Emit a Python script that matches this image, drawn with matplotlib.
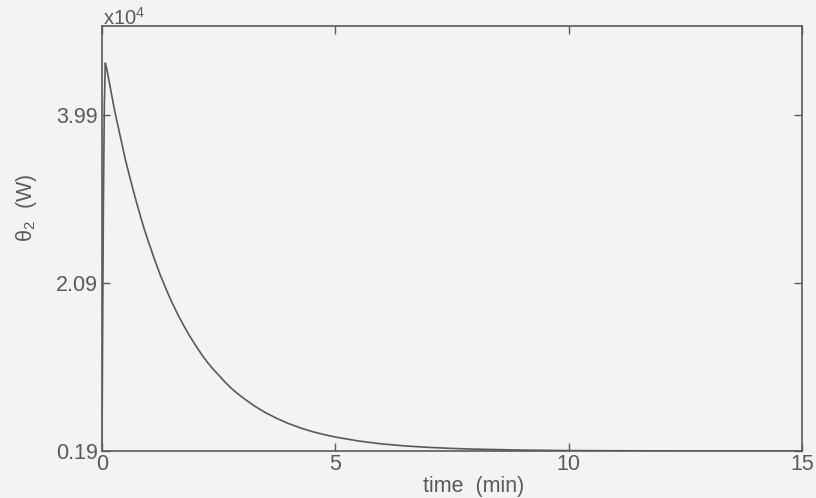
import matplotlib
matplotlib.use("Agg")
import matplotlib.pyplot as plt

# time (min) and theta_2 (x10^4 W)
time_min = [0.0, 0.01, 0.03, 0.05, 0.07, 0.10, 0.15, 0.20, 0.25, 0.30, 0.35,
            0.40, 0.50, 0.60, 0.70, 0.80, 0.90, 1.00, 1.125, 1.25, 1.375,
            1.50, 1.625, 1.75, 1.875, 2.00, 2.125, 2.25, 2.375, 2.50, 2.625,
            2.75, 2.875, 3.00, 3.25, 3.50, 3.75, 4.00, 4.25, 4.50, 4.75,
            5.00, 5.50, 6.00, 6.50, 7.00, 7.50, 8.00, 9.00,
            10.0, 11.0, 12.0, 13.0, 14.0, 15.0]
theta2 = [0.19, 1.20, 3.00, 4.10, 4.58, 4.52, 4.38, 4.24, 4.10, 3.97, 3.85,
          3.73, 3.49, 3.28, 3.08, 2.89, 2.71, 2.55, 2.36, 2.18, 2.02,
          1.87, 1.735, 1.61, 1.495, 1.39, 1.29, 1.20, 1.12, 1.05, 0.976,
          0.91, 0.853, 0.80, 0.705, 0.625, 0.558, 0.50, 0.452, 0.41, 0.377,
          0.348, 0.303, 0.270, 0.247, 0.231, 0.219, 0.211, 0.2005,
          0.195, 0.193, 0.1915, 0.191, 0.1905, 0.190]

xticks = [0, 5, 10, 15]
yticks = [0.19, 2.09, 3.99]
ytick_labels = ["0.19", "2.09", "3.99"]

bg = "#f3f3f3"
ink = "#5a5a5a"
fs = 15.5

plt.rcParams['font.family'] = ['Liberation Sans', 'DejaVu Sans']
plt.rcParams['mathtext.fontset'] = 'custom'
plt.rcParams['mathtext.rm'] = 'Liberation Sans'

fig = plt.figure(figsize=(8.16, 4.98), dpi=100, facecolor=bg)
ax = fig.add_axes([102/816, 1 - 451/498, 700/816, 425/498], facecolor=bg)

ax.plot(time_min, theta2, color=ink, lw=1.2)

ax.set_xlim(0, 15)
ax.set_ylim(0.19, 5.0)
ax.set_xticks(xticks)
ax.set_xticklabels([str(v) for v in xticks])
ax.set_yticks(yticks)
ax.set_yticklabels(ytick_labels)

ax.tick_params(direction='in', length=6, width=1.0, colors=ink,
               labelsize=fs, top=True, right=True)
ax.tick_params(axis='x', pad=2)
ax.tick_params(axis='y', pad=3)
for s in ax.spines.values():
    s.set_color(ink)
    s.set_linewidth(1.2)

ax.set_xlabel("time  (min)", fontsize=fs, color=ink)
ax.xaxis.set_label_coords(0.531, -0.058)
ax.set_ylabel("θ$_2$  (W)", fontsize=fs, color=ink)
ax.yaxis.set_label_coords(-0.09, 0.572)

fig.text(103/816, 1 - 7/498, "x10$^4$", ha='left', va='top',
         fontsize=14.5, color=ink)

fig.savefig("out.png", dpi=100, facecolor=bg)
